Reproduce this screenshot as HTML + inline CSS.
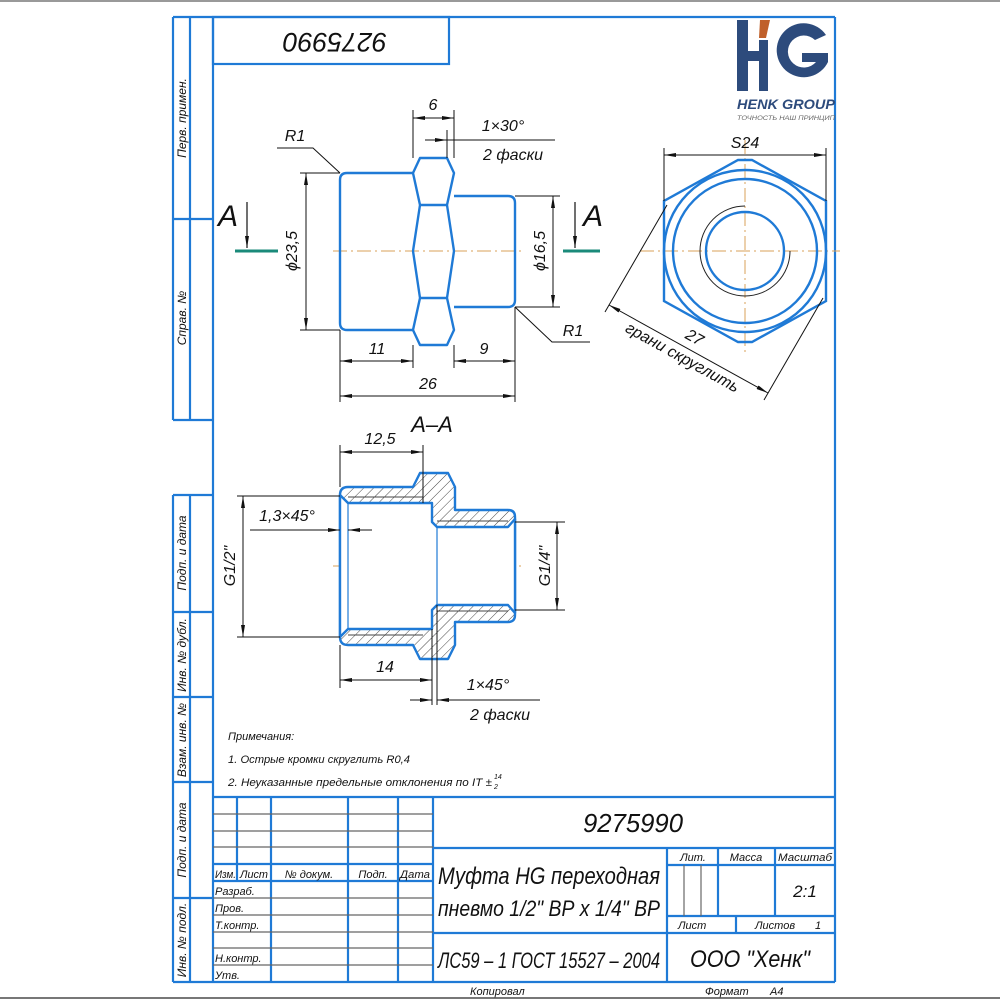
<!DOCTYPE html>
<html><head><meta charset="utf-8"><style>
html,body{margin:0;padding:0;background:#fff}
svg{display:block}
text{font-family:"Liberation Sans Narrow","Liberation Sans","DejaVu Sans",sans-serif;font-style:italic;fill:#111}
</style></head><body>
<svg width="1000" height="1000" viewBox="0 0 1000 1000" xmlns="http://www.w3.org/2000/svg">
<defs>
<marker id="a" viewBox="0 0 12 4" refX="12" refY="2" markerWidth="12" markerHeight="4" markerUnits="userSpaceOnUse" orient="auto-start-reverse"><path d="M0,0 L12,2 L0,4 Z" fill="#111"/></marker>
<pattern id="h" width="7" height="7" patternUnits="userSpaceOnUse" patternTransform="rotate(45)"><line x1="0" y1="0" x2="0" y2="7" stroke="#333" stroke-width="0.9"/></pattern>
</defs>
<rect width="1000" height="1000" fill="#fff"/>
<line x1="0" y1="1" x2="1000" y2="1" stroke="#999" stroke-width="2"/>
<line x1="0" y1="998" x2="1000" y2="998" stroke="#777" stroke-width="2"/>

<g stroke="#1f7ad6" stroke-width="2.2" fill="none">
<line x1="213" y1="17" x2="835" y2="17"/>
<line x1="835" y1="17" x2="835" y2="982"/>
<line x1="173" y1="982" x2="835" y2="982"/>
<line x1="213" y1="17" x2="213" y2="982"/>
<rect x="213" y="17" width="236" height="47"/>
<line x1="173" y1="17" x2="213" y2="17"/>
<line x1="173" y1="17" x2="173" y2="420"/>
<line x1="190" y1="17" x2="190" y2="420"/>
<line x1="173" y1="420" x2="213" y2="420"/>
<line x1="173" y1="219" x2="213" y2="219"/>
<line x1="173" y1="495" x2="213" y2="495"/>
<line x1="173" y1="495" x2="173" y2="982"/>
<line x1="190" y1="495" x2="190" y2="982"/>
<line x1="173" y1="612" x2="213" y2="612"/>
<line x1="173" y1="697" x2="213" y2="697"/>
<line x1="173" y1="782" x2="213" y2="782"/>
<line x1="173" y1="898" x2="213" y2="898"/>
<line x1="213" y1="797" x2="835" y2="797"/>
<line x1="237" y1="797" x2="237" y2="881"/>
<line x1="271" y1="797" x2="271" y2="982"/>
<line x1="348" y1="797" x2="348" y2="982"/>
<line x1="398" y1="797" x2="398" y2="982"/>
<line x1="433" y1="797" x2="433" y2="982"/>
<line x1="213" y1="864" x2="433" y2="864"/>
<line x1="213" y1="881" x2="433" y2="881"/>
<line x1="433" y1="848" x2="835" y2="848"/>
<line x1="433" y1="933" x2="835" y2="933"/>
<line x1="667" y1="848" x2="667" y2="982"/>
<line x1="667" y1="865" x2="835" y2="865"/>
<line x1="667" y1="916" x2="835" y2="916"/>
<line x1="718" y1="848" x2="718" y2="916"/>
<line x1="775" y1="848" x2="775" y2="916"/>
<line x1="736" y1="916" x2="736" y2="933"/>
</g>
<g stroke="#666" stroke-width="1.2">
<line x1="213" y1="814" x2="433" y2="814"/>
<line x1="213" y1="831" x2="433" y2="831"/>
<line x1="213" y1="847" x2="433" y2="847"/>
<line x1="213" y1="898" x2="433" y2="898"/>
<line x1="213" y1="915" x2="433" y2="915"/>
<line x1="213" y1="932" x2="433" y2="932"/>
<line x1="213" y1="948" x2="433" y2="948"/>
<line x1="213" y1="965" x2="433" y2="965"/>
<line x1="684" y1="865" x2="684" y2="916"/>
<line x1="701" y1="865" x2="701" y2="916"/>
</g>

<g font-size="12">
<text transform="translate(186,118) rotate(-90)" text-anchor="middle">Перв. примен.</text>
<text transform="translate(186,318) rotate(-90)" text-anchor="middle">Справ. №</text>
<text transform="translate(186,553) rotate(-90)" text-anchor="middle">Подп. и дата</text>
<text transform="translate(186,655) rotate(-90)" text-anchor="middle">Инв. № дубл.</text>
<text transform="translate(186,740) rotate(-90)" text-anchor="middle">Взам. инв. №</text>
<text transform="translate(186,840) rotate(-90)" text-anchor="middle">Подп. и дата</text>
<text transform="translate(186,940) rotate(-90)" text-anchor="middle">Инв. № подл.</text>
</g>
<text transform="translate(335,42) rotate(180)" text-anchor="middle" font-size="27" dy="9" textLength="104" lengthAdjust="spacingAndGlyphs">9275990</text>

<g font-size="11">
<text x="215" y="878" textLength="21" lengthAdjust="spacingAndGlyphs">Изм.</text><text x="240" y="878" textLength="28" lengthAdjust="spacingAndGlyphs">Лист</text>
<text x="309" y="878" text-anchor="middle">№ докум.</text>
<text x="373" y="878" text-anchor="middle">Подп.</text>
<text x="415" y="878" text-anchor="middle" textLength="30" lengthAdjust="spacingAndGlyphs">Дата</text>
<text x="215" y="895">Разраб.</text>
<text x="215" y="912">Пров.</text>
<text x="215" y="929">Т.контр.</text>
<text x="215" y="962">Н.контр.</text>
<text x="215" y="979">Утв.</text>
<text x="693" y="861" text-anchor="middle">Лит.</text>
<text x="746" y="861" text-anchor="middle">Масса</text>
<text x="805" y="861" text-anchor="middle" textLength="54" lengthAdjust="spacingAndGlyphs">Масштаб</text>
<text x="678" y="929">Лист</text>
<text x="755" y="929">Листов</text>
<text x="815" y="929">1</text>
<text x="470" y="995">Копировал</text>
<text x="705" y="995">Формат</text>
<text x="770" y="995">А4</text>
</g>
<text x="805" y="897" font-size="17" text-anchor="middle">2:1</text>
<text x="583" y="832" font-size="26" textLength="100" lengthAdjust="spacingAndGlyphs">9275990</text>
<text x="438" y="884" font-size="24" textLength="222" lengthAdjust="spacingAndGlyphs">Муфта HG переходная</text>
<text x="438" y="916" font-size="22" textLength="222" lengthAdjust="spacingAndGlyphs">пневмо 1/2" ВР x 1/4" ВР</text>
<text x="438" y="968" font-size="22" textLength="222" lengthAdjust="spacingAndGlyphs">ЛС59 – 1 ГОСТ 15527 – 2004</text>
<text x="690" y="967" font-size="24" textLength="120" lengthAdjust="spacingAndGlyphs">ООО "Хенк"</text>

<g font-size="11">
<text x="228" y="740">Примечания:</text>
<text x="228" y="763" textLength="182" lengthAdjust="spacingAndGlyphs">1. Острые кромки скруглить R0,4</text>
<text x="228" y="786" textLength="264" lengthAdjust="spacingAndGlyphs">2. Неуказанные предельные отклонения по IT ±</text>
<text x="494" y="779" font-size="7">14</text>
<text x="494" y="789" font-size="7">2</text>
</g>

<g>
<rect x="737" y="20" width="11" height="71" fill="#2d4b7c"/>
<rect x="737" y="51" width="30" height="10" fill="#2d4b7c"/>
<rect x="759" y="40" width="9" height="51" fill="#2d4b7c"/>
<polygon points="760,20 770,20 766,38 759,38" fill="#c0602a"/>
<path d="M826,35 A27,27 0 1 0 828,62 L828,53 L802,53 L802,62 L816,62 A16,16 0 1 1 815,40 Z" fill="#2d4b7c"/>
<text x="786" y="109" text-anchor="middle" font-size="14" font-weight="bold" font-style="normal" style="fill:#2d4b7c;font-family:'Liberation Sans',sans-serif" textLength="98" lengthAdjust="spacingAndGlyphs">HENK GROUP</text>
<text x="786" y="120" text-anchor="middle" font-size="6" font-style="normal" style="fill:#666;font-family:'Liberation Sans',sans-serif" textLength="98" lengthAdjust="spacingAndGlyphs">ТОЧНОСТЬ НАШ ПРИНЦИП</text>
</g>

<g stroke="#d9a15a" stroke-width="1" stroke-dasharray="14,4,2,4" fill="none">
<line x1="333" y1="251" x2="524" y2="251"/>
<line x1="640" y1="251" x2="840" y2="251"/>
<line x1="745" y1="140" x2="745" y2="355"/>
<line x1="333" y1="566" x2="522" y2="566"/>
</g>

<g stroke="#1f7ad6" stroke-width="2.4" fill="none" stroke-linejoin="round">
<path d="M413,173 L347,173 Q340,173 340,180 L340,323 Q340,330 347,330 L413,330"/>
<path d="M454,196 L508,196 Q515,196 515,203 L515,300 Q515,307 508,307 L454,307"/>
<path d="M420,158 L447,158 L454,173 L447,205 L454,251 L447,298 L454,330 L447,345 L420,345 L413,330 L420,298 L413,251 L420,205 L413,173 Z"/>
<line x1="420" y1="205" x2="447" y2="205"/>
<line x1="420" y1="298" x2="447" y2="298"/>
</g>
<g stroke="#1a8a7a" stroke-width="3"><line x1="235" y1="251" x2="278" y2="251"/><line x1="563" y1="251" x2="600" y2="251"/></g>
<g stroke="#111" stroke-width="1.2" fill="none">
<line x1="247" y1="202" x2="247" y2="248" marker-end="url(#a)"/>
<line x1="575" y1="202" x2="575" y2="248" marker-end="url(#a)"/>
</g>
<text x="228" y="226" font-size="30" font-style="normal" text-anchor="middle">A</text>
<text x="593" y="226" font-size="30" font-style="normal" text-anchor="middle">A</text>

<g stroke="#111" stroke-width="1" fill="none">
<line x1="300" y1="173" x2="340" y2="173"/><line x1="300" y1="330" x2="340" y2="330"/>
<line x1="306" y1="173" x2="306" y2="330" marker-start="url(#a)" marker-end="url(#a)"/>
<line x1="515" y1="196" x2="560" y2="196"/><line x1="515" y1="307" x2="560" y2="307"/>
<line x1="553" y1="196" x2="553" y2="307" marker-start="url(#a)" marker-end="url(#a)"/>
<line x1="413" y1="110" x2="413" y2="158"/><line x1="454" y1="110" x2="454" y2="158"/>
<line x1="413" y1="118" x2="454" y2="118" marker-start="url(#a)" marker-end="url(#a)"/>
<line x1="425" y1="140" x2="447" y2="140" marker-end="url(#a)"/>
<line x1="447" y1="140" x2="555" y2="140"/>
<line x1="447" y1="130" x2="447" y2="158"/>
<polyline points="277,148 313,148 340,173"/>
<polyline points="515,307 552,342 590,342"/>
<line x1="340" y1="330" x2="340" y2="402"/><line x1="413" y1="345" x2="413" y2="368"/>
<line x1="454" y1="345" x2="454" y2="368"/><line x1="515" y1="307" x2="515" y2="402"/>
<line x1="340" y1="361" x2="413" y2="361" marker-start="url(#a)" marker-end="url(#a)"/>
<line x1="454" y1="361" x2="515" y2="361" marker-start="url(#a)" marker-end="url(#a)"/>
<line x1="340" y1="396" x2="515" y2="396" marker-start="url(#a)" marker-end="url(#a)"/>
</g>
<g font-size="16">
<text transform="translate(297,251) rotate(-90)" text-anchor="middle">ϕ23,5</text>
<text transform="translate(545,251) rotate(-90)" text-anchor="middle">ϕ16,5</text>
<text x="433" y="110" text-anchor="middle">6</text>
<text x="503" y="131" text-anchor="middle">1×30°</text>
<text x="513" y="160" text-anchor="middle">2 фаски</text>
<text x="295" y="141" text-anchor="middle">R1</text>
<text x="573" y="336" text-anchor="middle">R1</text>
<text x="377" y="354" text-anchor="middle">11</text>
<text x="484" y="354" text-anchor="middle">9</text>
<text x="428" y="389" text-anchor="middle">26</text>
</g>

<g stroke="#1f7ad6" stroke-width="2.4" fill="none">
<polygon points="738,160 752,160 826,201 826,301 752,342 738,342 664,301 664,201"/>
<circle cx="745" cy="251" r="81"/>
<circle cx="745" cy="251" r="72"/>
<circle cx="745" cy="251" r="39"/>
</g>
<path d="M745,206 A45,45 0 1 0 790,251" stroke="#222" stroke-width="1" fill="none"/>
<g stroke="#111" stroke-width="1" fill="none">
<line x1="664" y1="148" x2="664" y2="201"/><line x1="826" y1="148" x2="826" y2="201"/>
<line x1="664" y1="155" x2="826" y2="155" marker-start="url(#a)" marker-end="url(#a)"/>
<line x1="667" y1="205" x2="605" y2="312"/><line x1="823" y1="298" x2="764" y2="400"/>
<line x1="609" y1="305" x2="768" y2="393" marker-start="url(#a)" marker-end="url(#a)"/>
</g>
<text x="745" y="148" font-size="16" text-anchor="middle">S24</text>
<text transform="translate(692,342) rotate(29)" font-size="16" text-anchor="middle">27</text>
<text transform="translate(680,362) rotate(29)" font-size="16" text-anchor="middle">грани скруглить</text>

<path d="M340,495 Q340,487 348,487 L413,487 L420,473 L448,473 L455,487 L455,510 L508,510 Q515,510 515,517 L515,615 Q515,622 508,622 L455,622 L455,645 L448,659 L420,659 L413,645 L348,645 Q340,645 340,637 Z" fill="url(#h)" stroke="#1f7ad6" stroke-width="2.4" stroke-linejoin="round"/>
<polygon points="340,495 348,503 432,503 432,522 437,527 508,527 515,519 515,613 508,605 437,605 432,610 432,629 348,629 340,637" fill="#fff" stroke="#1f7ad6" stroke-width="2.4" stroke-linejoin="round"/>
<g stroke="#1f7ad6" stroke-width="1.2">
<line x1="348" y1="503" x2="348" y2="629"/><line x1="437" y1="527" x2="437" y2="605"/>
</g>
<g stroke="#444" stroke-width="1">
<line x1="348" y1="497" x2="423" y2="497"/><line x1="348" y1="635" x2="423" y2="635"/>
<line x1="437" y1="521" x2="508" y2="521"/><line x1="437" y1="611" x2="508" y2="611"/>
</g>
<text x="432" y="432" font-size="22" text-anchor="middle">A–A</text>
<g stroke="#111" stroke-width="1" fill="none">
<line x1="340" y1="445" x2="340" y2="487"/><line x1="423" y1="445" x2="423" y2="503"/>
<line x1="340" y1="452" x2="423" y2="452" marker-start="url(#a)" marker-end="url(#a)"/>
<line x1="237" y1="496" x2="340" y2="496"/><line x1="237" y1="637" x2="340" y2="637"/>
<line x1="243" y1="496" x2="243" y2="637" marker-start="url(#a)" marker-end="url(#a)"/>
<line x1="250" y1="530" x2="340" y2="530" marker-end="url(#a)"/>
<line x1="372" y1="530" x2="348" y2="530" marker-end="url(#a)"/>
<line x1="515" y1="522" x2="565" y2="522"/><line x1="515" y1="610" x2="565" y2="610"/>
<line x1="557" y1="522" x2="557" y2="610" marker-start="url(#a)" marker-end="url(#a)"/>
<line x1="340" y1="645" x2="340" y2="688"/>
<line x1="432" y1="629" x2="432" y2="705"/><line x1="437" y1="605" x2="437" y2="705"/>
<line x1="340" y1="680" x2="432" y2="680" marker-start="url(#a)" marker-end="url(#a)"/>
<line x1="410" y1="700" x2="432" y2="700" marker-end="url(#a)"/>
<line x1="540" y1="700" x2="437" y2="700" marker-end="url(#a)"/>
</g>
<g font-size="16">
<text x="380" y="444" text-anchor="middle">12,5</text>
<text x="287" y="521" text-anchor="middle">1,3×45°</text>
<text transform="translate(235,566) rotate(-90)" text-anchor="middle">G1/2"</text>
<text transform="translate(550,566) rotate(-90)" text-anchor="middle">G1/4"</text>
<text x="385" y="672" text-anchor="middle">14</text>
<text x="488" y="690" text-anchor="middle">1×45°</text>
<text x="500" y="720" text-anchor="middle">2 фаски</text>
</g>
</svg>
</body></html>
